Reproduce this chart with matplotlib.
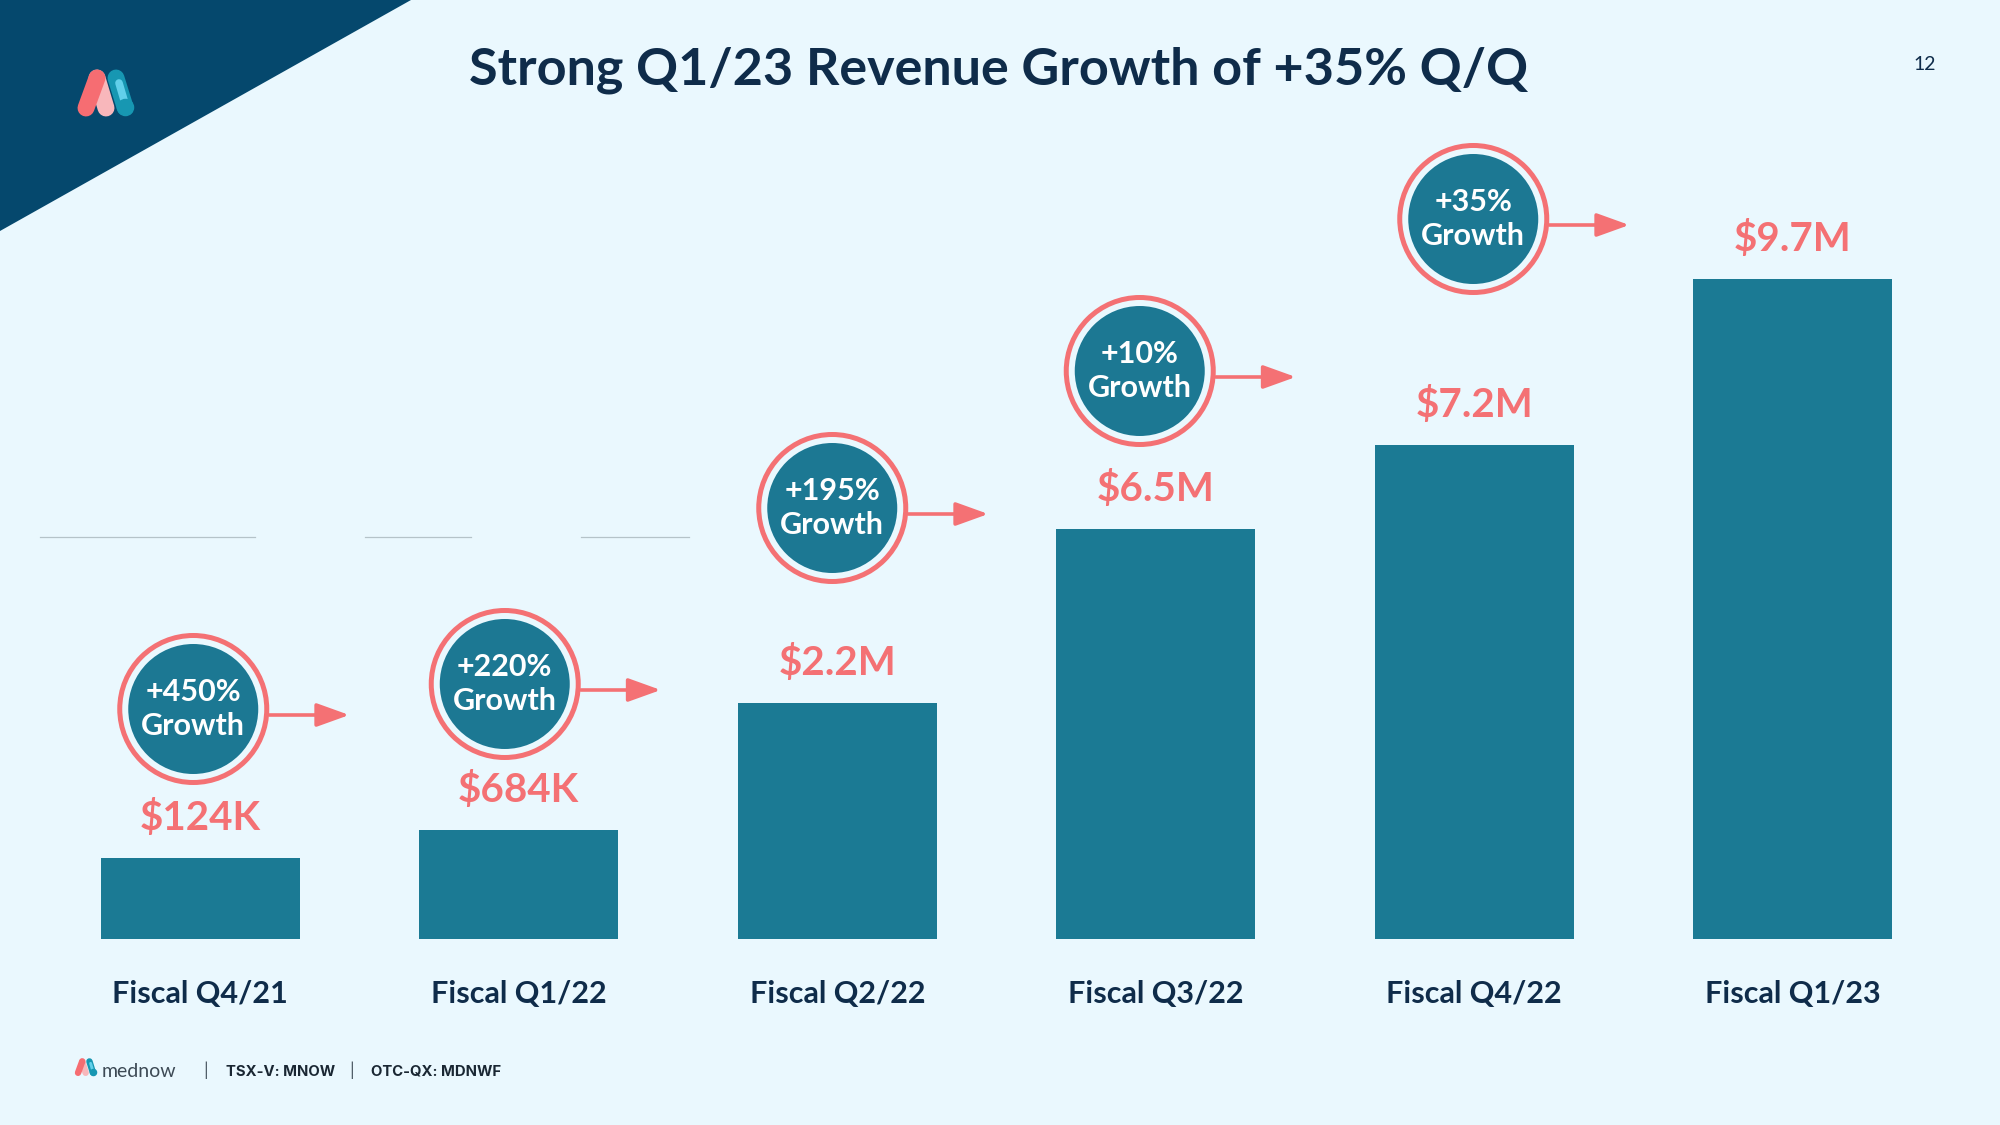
import matplotlib
matplotlib.use("Agg")
import matplotlib.pyplot as plt
from matplotlib.patches import Polygon, Ellipse

# slide data
quarters = ["Fiscal Q4/21", "Fiscal Q1/22", "Fiscal Q2/22",
            "Fiscal Q3/22", "Fiscal Q4/22", "Fiscal Q1/23"]
revenue_labels = ["$124K", "$684K", "$2.2M", "$6.5M", "$7.2M", "$9.7M"]
# bars on the slide are not drawn to scale, these are the drawn heights
bar_heights = [81, 109, 236, 410, 494, 660]
growth = ["+450%", "+220%", "+195%", "+10%", "+35%"]

title = "Strong Q1/23 Revenue Growth of +35% Q/Q"

# badge layout (px offset from bar centre, px above baseline)
badge_dx = [-7, -14, -5, -16, -1]
badge_y = [230, 255, 431, 568, 720]

BG = "#EAF8FE"
NAVY = "#0F2C4A"
TEAL = "#1B7A94"
CORAL = "#F47174"
FONT = "Lato"


def draw_logo(ax, x0, y0, s):
    lw = 12.2 * s
    ax.plot([x0 + 19*s, x0 + 28*s], [y0 + 9*s, y0 + 39*s], color="#F8B7BB",
            lw=lw, solid_capstyle="round")
    ax.plot([x0 + 8*s, x0 + 19*s], [y0 + 39*s, y0 + 9*s], color="#F66D72",
            lw=lw, solid_capstyle="round")
    ax.plot([x0 + 38*s, x0 + 47*s], [y0 + 9*s, y0 + 38*s], color="#1797B2",
            lw=lw, solid_capstyle="round")
    ax.plot([x0 + 41*s, x0 + 46*s], [y0 + 14*s, y0 + 31*s], color="#62D0EA",
            lw=lw * 0.45, solid_capstyle="round")
    ax.plot([x0 + 47*s], [y0 + 38*s], "o", color="#1797B2", ms=lw * 0.95)


fig = plt.figure(figsize=(20, 11.25), dpi=100, facecolor=BG)

# background layer in pixel coordinates
bg = fig.add_axes([0, 0, 1, 1])
bg.set_xlim(0, 2000)
bg.set_ylim(1125, 0)
bg.axis("off")
bg.add_patch(Polygon([(0, 0), (411, 0), (0, 231)], closed=True,
                     color="#05486D", lw=0))
draw_logo(bg, 78, 69, 1.0)

for xs in ([40, 255], [365, 471], [581, 689]):
    bg.plot(xs, [537, 537], color="#B5C3C9", lw=0.9)

bg.text(999, 84, title, ha="center", va="baseline", fontsize=37.5,
        fontweight="bold", family=FONT, color=NAVY)
bg.text(1925, 64, "12", ha="center", va="center", fontsize=14,
        family=FONT, color=NAVY)

# footer
draw_logo(bg, 75, 1058, 0.38)
bg.text(102, 1077, "mednow", ha="left", va="baseline", fontsize=14,
        family=FONT, color="#3D4A55")
bg.text(206, 1076, "|", ha="center", va="baseline", fontsize=10,
        family="Inter", color="#3D4A55")
bg.text(226, 1076, "TSX-V: MNOW", ha="left", va="baseline", fontsize=10.7,
        family="Inter", fontweight="bold", color="#1A2733")
bg.text(352, 1076, "|", ha="center", va="baseline", fontsize=10,
        family="Inter", color="#3D4A55")
bg.text(371, 1076, "OTC-QX: MDNWF", ha="left", va="baseline", fontsize=10.7,
        family="Inter", fontweight="bold", color="#1A2733")

# bar chart, y units are pixels above the baseline
ax = fig.add_axes([41 / 2000, 186 / 1125, 1911 / 2000, 939 / 1125])
ax.set_xlim(-0.5, 5.5)
ax.set_ylim(0, 939)
ax.axis("off")
px = 1911 / 6  # pixels per category

x = list(range(len(quarters)))
ax.bar(x, bar_heights, width=0.625, color=TEAL)

for i, (h, lab) in enumerate(zip(bar_heights, revenue_labels)):
    ax.text(i, h + 28, lab, ha="center", va="baseline", fontsize=29,
            fontweight="bold", family=FONT, color=CORAL)
    ax.text(i, -64, quarters[i], ha="center", va="baseline", fontsize=22,
            fontweight="bold", family=FONT, color=NAVY, clip_on=False)

for k, g in enumerate(growth):
    cx = k + badge_dx[k] / px
    cy = badge_y[k]
    ax.add_patch(Ellipse((cx, cy), 2 * 65 / px, 130, fc="#1C7893", ec="none"))
    ax.add_patch(Ellipse((cx, cy), 2 * 73.5 / px, 147, fill=False,
                         ec=CORAL, lw=3.6))
    ax.text(cx, cy + 17, g, ha="center", va="center", fontsize=22,
            fontweight="bold", family=FONT, color="white")
    ax.text(cx, cy - 17, "Growth", ha="center", va="center", fontsize=22,
            fontweight="bold", family=FONT, color="white")
    ax.annotate("", xy=(cx + 156 / px, cy - 6), xytext=(cx + 76 / px, cy - 6),
                arrowprops=dict(arrowstyle="-|>,head_length=2.0,head_width=0.72",
                                color=CORAL, lw=2.6, shrinkA=0, shrinkB=0))

fig.savefig("out.png", dpi=100, facecolor=BG)
